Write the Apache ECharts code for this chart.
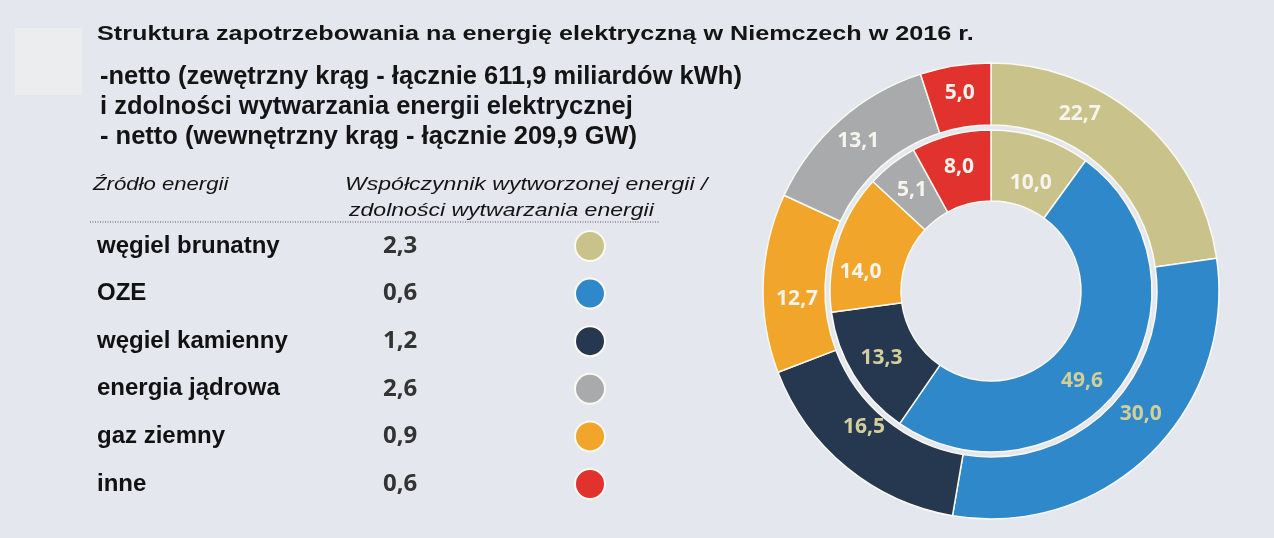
<!DOCTYPE html>
<html>
<head>
<meta charset="utf-8">
<script src="https://cdn.jsdelivr.net/npm/echarts@6/dist/echarts.min.js"></script>
<style>
  html, body { margin: 0; padding: 0; background: #e5e7ee; }
  #chart { width: 1274px; height: 538px; }
</style>
</head>
<body>
<div id="chart"></div>
<script>
// energy sources, in table order
var sources = ['węgiel brunatny', 'OZE', 'węgiel kamienny', 'energia jądrowa', 'gaz ziemny', 'inne'];
// outer ring: share of net electricity generation, %
var generation = [22.7, 30.0, 16.5, 13.1, 12.7, 5.0];
// inner ring: share of net generating capacity, %
var capacity = [10.0, 49.6, 13.3, 5.1, 14.0, 8.0];
// ratio generated energy / capacity
var factors = ['2,3', '0,6', '1,2', '2,6', '0,9', '0,6'];
// clockwise order of slices from 12 o'clock (indexes into sources)
var ringOrder = [0, 1, 2, 4, 3, 5];

var colors = ['#c9c38b', '#2f88c9', '#253850', '#a8aaac', '#f2a52b', '#e2322d'];
var khaki = '#d3cf9a';
var light = '#f6f4ec';
// label colour per source: khaki on blue and navy, white elsewhere
var labelColors = [light, khaki, khaki, light, light, light];

// the printed labels are not all on the slice middle; small nudges per source
var outerNudge = { 'węgiel brunatny': [-42, -26], 'OZE': [10, -20], 'węgiel kamienny': [0, -18], 'gaz ziemny': [6, 15] };
var innerNudge = { 'węgiel brunatny': [0, 14], 'OZE': [-14, 16], 'gaz ziemny': [-8, 20] };

function fmt(v) {
    return v.toFixed(1).replace('.', ',');
}

function ringData(values, nudge) {
    return ringOrder.map(function (i) {
        return {
            name: sources[i],
            value: values[i],
            itemStyle: { color: colors[i] },
            label: { color: labelColors[i], offset: nudge[sources[i]] || [0, 0] }
        };
    });
}

function txt(x, y, text, font, sx) {
    return {
        type: 'text', x: x, y: y, scaleX: sx || 1, silent: true,
        style: { text: text, font: font, fill: '#141414', textVerticalAlign: 'middle' }
    };
}

var chart = echarts.init(document.getElementById('chart'));

var ringLabel = {
    show: true,
    position: 'inside',
    fontFamily: 'Open Sans',
    fontWeight: 'bold',
    fontSize: 21,
    formatter: function (p) { return fmt(p.value); }
};

var boldHead = 'bold 25px "Liberation Sans"';
var italicHead = 'italic 18px "Liberation Sans"';

chart.setOption({
    animation: false,
    backgroundColor: '#e5e7ee',
    legend: {
        orient: 'vertical',
        left: 97,
        top: 230,
        padding: 0,
        align: 'right',
        icon: 'circle',
        itemWidth: 30,
        itemHeight: 30,
        itemGap: 15.6,
        selectedMode: false,
        data: sources,
        formatter: function (name) {
            return '{n|' + name + '}{v|' + factors[sources.indexOf(name)] + '}';
        },
        textStyle: {
            rich: {
                n: { width: 286, align: 'left', fontFamily: 'Liberation Sans', fontWeight: 'bold', fontSize: 24, color: '#111', lineHeight: 30 },
                v: { width: 187, align: 'left', fontFamily: 'Open Sans', fontWeight: 'bold', fontSize: 24, color: '#333', lineHeight: 30 }
            }
        }
    },
    graphic: [
        { type: 'rect', shape: { x: 15, y: 28, width: 67, height: 67 }, style: { fill: '#ecedef' }, silent: true },
        txt(97, 34, 'Struktura zapotrzebowania na energię elektryczną w Niemczech w 2016 r.', 'bold 21px "Liberation Sans"', 1.2),
        txt(100, 77, '-netto (zewętrzny krąg - łącznie 611,9 miliardów kWh)', boldHead, 1.02),
        txt(100, 107, 'i zdolności wytwarzania energii elektrycznej', boldHead, 1.02),
        txt(100, 137, '- netto (wewnętrzny krąg - łącznie 209,9 GW)', boldHead, 1.02),
        txt(93, 185, 'Źródło energii', italicHead, 1.23),
        txt(345, 185, 'Współczynnik wytworzonej energii /', italicHead, 1.28),
        txt(349, 211, 'zdolności wytwarzania energii', italicHead, 1.28),
        {
            type: 'line', shape: { x1: 90, y1: 222, x2: 660, y2: 222 },
            style: { stroke: '#555', lineWidth: 1, lineDash: [1, 1.5] }, silent: true
        }
    ],
    series: [
        {
            name: 'energia netto',
            type: 'pie',
            center: [991, 291],
            radius: [166, 228],
            startAngle: 90,
            clockwise: true,
            silent: true,
            itemStyle: { borderColor: '#fbfaf2', borderWidth: 1.5 },
            label: ringLabel,
            labelLine: { show: false },
            emphasis: { disabled: true },
            data: ringData(generation, outerNudge)
        },
        {
            name: 'moc netto',
            type: 'pie',
            center: [991, 291],
            radius: [90, 161],
            startAngle: 90,
            clockwise: true,
            silent: true,
            itemStyle: { borderColor: '#fbfaf2', borderWidth: 1.5 },
            label: ringLabel,
            labelLine: { show: false },
            emphasis: { disabled: true },
            data: ringData(capacity, innerNudge)
        }
    ]
});
</script>
</body>
</html>
